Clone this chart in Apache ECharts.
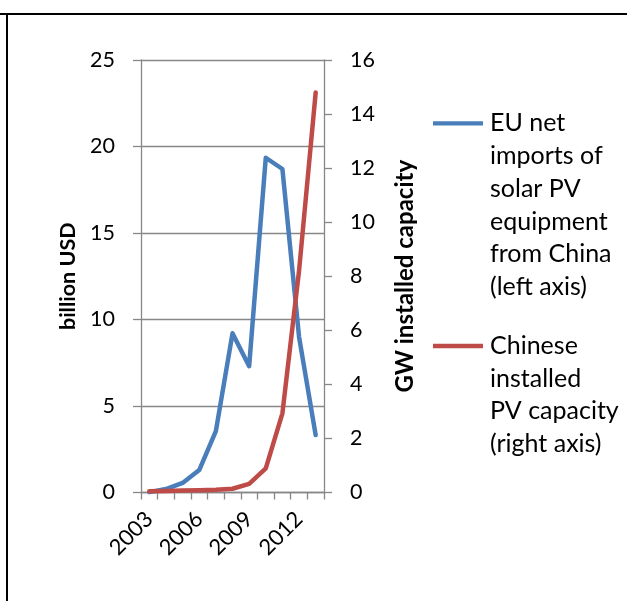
<!DOCTYPE html>
<html>
<head>
<meta charset="utf-8">
<script src="https://cdn.jsdelivr.net/npm/echarts@6/dist/echarts.min.js"></script>
<style>
  html, body { margin: 0; padding: 0; background: #fff; }
  #chart { width: 627px; height: 601px; }
</style>
</head>
<body>
<div id="chart"></div>
<script>
// Years on the category axis
const years = ['2003', '2004', '2005', '2006', '2007', '2008', '2009', '2010', '2011', '2012', '2013'];
// EU net imports of solar PV equipment from China, billion USD (left axis)
const euImports = [0.02, 0.2, 0.55, 1.3, 3.55, 9.2, 7.3, 19.35, 18.7, 9.0, 3.32];
// Chinese installed PV capacity, GW (right axis)
const chinaCapacity = [0.05, 0.06, 0.07, 0.08, 0.1, 0.14, 0.32, 0.89, 2.93, 8.2, 14.8];
// Axis ranges
const leftAxisRange = { min: 0, max: 25, step: 5 };
const rightAxisRange = { min: 0, max: 16, step: 2 };
// Series names as shown in the legend
const euName = 'EU net\nimports of\nsolar PV\nequipment\nfrom China\n(left axis)';
const cnName = 'Chinese\ninstalled\nPV capacity\n(right axis)';

const FONT = 'Lato, "Open Sans", sans-serif';
const GRAY = '#878787';
const BLUE = '#4A7EBB';
const RED = '#BE4B48';
const LINE_H = 32.7;
const KEY_W = 54;

// Legend key: a short stroke aligned with the first text line of a multi-line entry
function keyIcon(lines) {
  const h = (lines * LINE_H).toFixed(1);
  const c = LINE_H / 2;
  const t = (c - 2.2).toFixed(1), b = (c + 2.2).toFixed(1);
  return 'path://M0,0L0,0M' + KEY_W + ',' + h + 'L' + KEY_W + ',' + h +
    'M2,' + t + 'L52,' + t + 'L52,' + b + 'L2,' + b + 'Z';
}

function legendBlock(name, lines, top) {
  return {
    orient: 'vertical',
    left: 431,
    top: top,
    padding: 0,
    itemWidth: KEY_W,
    itemHeight: lines * LINE_H,
    selectedMode: false,
    itemStyle: { borderWidth: 0 },
    textStyle: { color: '#000', fontFamily: FONT, fontSize: 25, lineHeight: LINE_H },
    data: [{ name: name, icon: keyIcon(lines) }]
  };
}

const chart = echarts.init(document.getElementById('chart'), null, { renderer: 'canvas' });

const axisText = { color: '#000', fontFamily: FONT, fontSize: 21.5 };
const gridLine = { color: GRAY, width: 1.3 };

chart.setOption({
  animation: false,
  backgroundColor: '#fff',
  textStyle: { fontFamily: FONT, color: '#000' },
  grid: { left: 141, right: 303, top: 60, bottom: 108.5, containLabel: false },
  legend: [
    legendBlock(euName, 6, 107),
    legendBlock(cnName, 4, 329.6)
  ],
  xAxis: {
    type: 'category',
    data: years,
    boundaryGap: true,
    axisLine: { lineStyle: gridLine },
    axisTick: { show: true, interval: 0, length: 7, lineStyle: gridLine },
    axisLabel: Object.assign({ interval: 2, rotate: 45, margin: 23 }, axisText, { fontSize: 22 }),
    splitLine: { show: false }
  },
  yAxis: [
    {
      type: 'value',
      position: 'left',
      min: leftAxisRange.min,
      max: leftAxisRange.max,
      interval: leftAxisRange.step,
      name: 'billion USD',
      nameLocation: 'middle',
      nameRotate: 90,
      nameGap: 62,
      nameTextStyle: { color: '#000', fontFamily: FONT, fontSize: 21.5, fontWeight: 'bold' },
      axisLine: { show: true, lineStyle: gridLine },
      axisTick: { show: true, length: 8, lineStyle: gridLine },
      axisLabel: Object.assign({ margin: 26 }, axisText),
      splitLine: { show: true, lineStyle: gridLine }
    },
    {
      type: 'value',
      position: 'right',
      min: rightAxisRange.min,
      max: rightAxisRange.max,
      interval: rightAxisRange.step,
      name: 'GW installed capacity',
      nameLocation: 'middle',
      nameRotate: 90,
      nameGap: 69,
      nameTextStyle: { color: '#000', fontFamily: FONT, fontSize: 24, fontWeight: 'bold' },
      axisLine: { show: true, lineStyle: gridLine },
      axisTick: { show: true, length: 8, lineStyle: gridLine },
      axisLabel: Object.assign({ margin: 26 }, axisText),
      splitLine: { show: false }
    }
  ],
  series: [
    {
      name: euName,
      type: 'line',
      yAxisIndex: 0,
      data: euImports,
      symbol: 'none',
      color: BLUE,
      lineStyle: { color: BLUE, width: 4.5, cap: 'round', join: 'round' },
      z: 3
    },
    {
      name: cnName,
      type: 'line',
      yAxisIndex: 1,
      data: chinaCapacity,
      symbol: 'none',
      color: RED,
      lineStyle: { color: RED, width: 4.5, cap: 'round', join: 'round' },
      z: 4
    }
  ],
  graphic: [
    // Frame of the surrounding table cell
    { type: 'line', silent: true, shape: { x1: 0, y1: 14, x2: 627, y2: 14 }, style: { stroke: '#000', lineWidth: 2 } },
    { type: 'line', silent: true, shape: { x1: 7, y1: 13, x2: 7, y2: 601 }, style: { stroke: '#000', lineWidth: 2 } }
  ]
});
</script>
</body>
</html>
